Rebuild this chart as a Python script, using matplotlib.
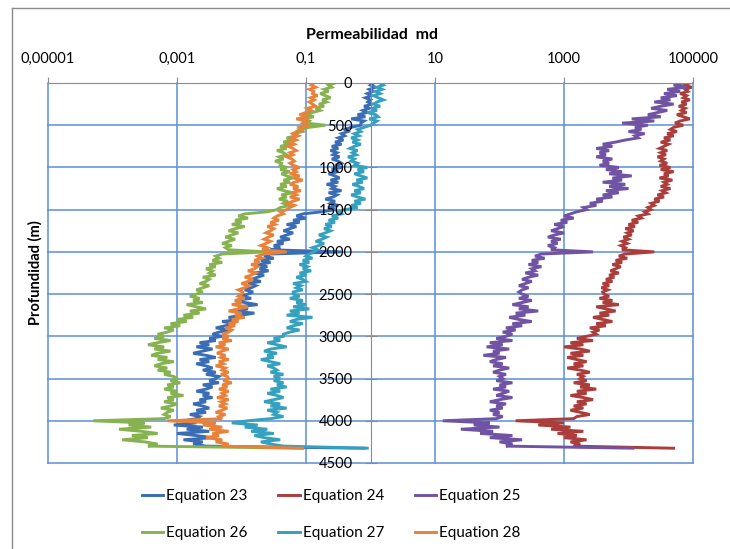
import numpy as np
import matplotlib.pyplot as plt
from matplotlib.lines import Line2D
from matplotlib.ticker import FixedLocator, FixedFormatter, NullLocator

plt.rcParams['font.family'] = ['Lato', 'DejaVu Sans']

# depth samples every 25 m (0 .. 4325 m)
depth_m = np.arange(0, 4326, 25)

# log10 of permeability (md), one row per 500 m
eq23_log = [
    0.05, 0.0, 0.08, -0.02, 0.04, -0.05, 0.02, -0.08, 0.0, -0.04, 0.03, -0.1, -0.02, -0.12, -0.05, -0.2, -0.08, -0.3, -0.1, -0.15,
    -0.15, -0.3, -0.4, -0.35, -0.45, -0.4, -0.5, -0.42, -0.55, -0.45, -0.6, -0.5, -0.62, -0.52, -0.58, -0.48, -0.6, -0.5, -0.45, -0.55,
    -0.45, -0.6, -0.5, -0.65, -0.55, -0.48, -0.62, -0.5, -0.68, -0.55, -0.6, -0.45, -0.65, -0.52, -0.58, -0.7, -0.55, -0.62, -0.5, -0.66,
    -0.55, -0.75, -1.05, -1.15, -1.0, -1.2, -1.1, -1.3, -1.15, -1.25, -1.35, -1.2, -1.3, -1.4, -1.25, -1.45, -1.35, -1.5, -1.4, -1.55,
    -0.45, -1.55, -1.65, -1.5, -1.7, -1.55, -1.75, -1.6, -1.72, -1.58, -1.8, -1.65, -1.75, -1.85, -1.7, -1.9, -1.78, -1.85, -1.95, -1.82,
    -1.9, -2.0, -1.85, -2.1, -1.95, -1.75, -2.05, -1.9, -2.15, -1.8, -2.0, -2.2, -2.05, -2.3, -2.1, -2.25, -2.4, -2.2, -2.35, -2.45,
    -2.3, -2.5, -2.4, -2.65, -2.5, -2.7, -2.45, -2.6, -2.75, -2.55, -2.4, -2.65, -2.5, -2.7, -2.55, -2.45, -2.6, -2.4, -2.55, -2.35,
    -2.4, -2.5, -2.35, -2.6, -2.45, -2.55, -2.7, -2.5, -2.6, -2.45, -2.65, -2.55, -2.75, -2.6, -2.5, -2.7, -2.55, -2.8, -2.65, -2.7,
    -2.9, -2.7, -3.05, -2.6, -2.85, -2.5, -3.0, -2.7, -2.45, -2.9, -2.6, -2.75, -2.55, -0.1,
]

eq24_log = [
    4.95, 4.85, 4.98, 4.88, 4.92, 4.8, 4.9, 4.85, 4.95, 4.82, 4.9, 4.78, 4.88, 4.82, 4.9, 4.75, 4.85, 4.95, 4.8, 4.72,
    4.85, 4.7, 4.65, 4.75, 4.6, 4.7, 4.55, 4.65, 4.5, 4.62, 4.55, 4.48, 4.6, 4.5, 4.58, 4.45, 4.55, 4.5, 4.6, 4.48,
    4.65, 4.5, 4.7, 4.55, 4.62, 4.48, 4.68, 4.55, 4.6, 4.5, 4.65, 4.52, 4.58, 4.45, 4.55, 4.4, 4.48, 4.35, 4.4, 4.3,
    4.35, 4.25, 4.3, 4.15, 4.2, 4.05, 4.15, 4.0, 4.1, 3.95, 4.08, 3.98, 4.05, 3.92, 4.0, 3.9, 3.98, 3.88, 3.95, 3.9,
    4.4, 3.95, 3.85, 3.98, 3.8, 3.9, 3.75, 3.88, 3.8, 3.72, 3.85, 3.7, 3.78, 3.65, 3.75, 3.6, 3.7, 3.58, 3.68, 3.6,
    3.62, 3.7, 3.55, 3.75, 3.6, 3.85, 3.5, 3.65, 3.8, 3.55, 3.7, 3.45, 3.6, 3.75, 3.5, 3.65, 3.4, 3.55, 3.45, 3.5,
    3.35, 3.2, 3.45, 3.1, 3.3, 3.0, 3.25, 3.4, 3.1, 3.3, 3.05, 3.2, 3.35, 3.15, 3.3, 3.05, 3.25, 3.4, 3.2, 3.3,
    3.25, 3.35, 3.15, 3.4, 3.25, 3.5, 3.2, 3.35, 3.1, 3.3, 3.45, 3.2, 3.35, 3.15, 3.3, 3.1, 3.25, 3.4, 3.2, 3.15,
    2.25, 3.0, 2.6, 3.1, 2.8, 3.3, 2.9, 3.2, 3.0, 3.35, 3.1, 3.25, 3.15, 4.7,
]

eq25_log = [
    4.85, 4.7, 4.9, 4.6, 4.8, 4.55, 4.75, 4.5, 4.65, 4.4, 4.7, 4.5, 4.35, 4.6, 4.45, 4.3, 4.5, 4.05, 4.4, 3.9,
    4.3, 4.1, 4.2, 4.0, 4.25, 4.1, 4.15, 3.95, 3.8, 3.6, 3.75, 3.5, 3.7, 3.55, 3.65, 3.5, 3.75, 3.6, 3.7, 3.55,
    3.85, 3.65, 3.9, 3.7, 4.05, 3.75, 3.9, 3.6, 3.95, 3.7, 4.0, 3.65, 3.85, 3.6, 3.75, 3.5, 3.6, 3.4, 3.5, 3.3,
    3.35, 3.2, 3.1, 3.0, 3.15, 2.95, 3.05, 2.85, 3.0, 2.9, 2.8, 3.0, 2.85, 2.75, 2.95, 2.8, 2.9, 2.75, 2.85, 2.8,
    3.45, 2.65, 2.55, 2.7, 2.5, 2.6, 2.45, 2.65, 2.5, 2.55, 2.4, 2.6, 2.45, 2.35, 2.5, 2.4, 2.3, 2.45, 2.35, 2.3,
    2.35, 2.45, 2.3, 2.5, 2.35, 2.2, 2.45, 2.3, 2.6, 2.25, 2.4, 2.15, 2.3, 2.5, 2.2, 2.35, 2.1, 2.25, 2.05, 2.2,
    2.1, 1.95, 2.2, 1.85, 2.05, 1.8, 2.15, 1.9, 2.0, 1.75, 2.1, 1.95, 1.85, 2.05, 1.9, 2.15, 2.0, 1.9, 2.1, 2.0,
    2.05, 1.95, 2.2, 2.0, 2.1, 1.9, 2.15, 2.05, 1.95, 2.2, 2.0, 1.85, 2.1, 1.95, 2.05, 1.85, 2.0, 1.9, 2.05, 1.95,
    1.12, 1.85, 1.6, 2.0, 1.4, 1.9, 1.7, 2.2, 1.85, 2.35, 2.0, 2.2, 2.1, 4.07,
]

eq26_log = [
    -0.55, -0.65, -0.6, -0.72, -0.65, -0.78, -0.7, -0.62, -0.75, -0.68, -0.8, -0.72, -0.85, -0.78, -0.9, -1.0, -0.88, -1.05, -0.95, -1.0,
    -0.7, -0.95, -1.1, -1.05, -1.2, -1.15, -1.3, -1.22, -1.35, -1.25, -1.4, -1.3, -1.45, -1.35, -1.3, -1.42, -1.35, -1.48, -1.38, -1.4,
    -1.3, -1.4, -1.25, -1.38, -1.3, -1.2, -1.35, -1.25, -1.4, -1.3, -1.45, -1.35, -1.2, -1.38, -1.3, -1.42, -1.28, -1.35, -1.25, -1.4,
    -1.45, -1.6, -1.95, -2.05, -1.9, -2.1, -2.0, -2.15, -1.95, -2.1, -2.2, -2.05, -2.15, -2.25, -2.1, -2.2, -2.3, -2.15, -2.25, -2.2,
    -1.6, -2.3, -2.4, -2.35, -2.45, -2.3, -2.5, -2.4, -2.55, -2.45, -2.5, -2.4, -2.6, -2.5, -2.55, -2.65, -2.5, -2.6, -2.7, -2.6,
    -2.7, -2.8, -2.65, -2.75, -2.6, -2.85, -2.7, -2.55, -2.8, -2.65, -2.9, -2.75, -3.0, -2.85, -3.1, -2.95, -3.2, -3.05, -3.15, -3.3,
    -3.2, -3.35, -3.1, -3.3, -3.45, -3.2, -3.35, -3.1, -3.3, -3.4, -3.15, -3.3, -3.05, -3.25, -3.35, -3.15, -3.3, -3.1, -3.2, -3.05,
    -3.0, -3.1, -2.95, -3.15, -3.05, -3.2, -3.0, -3.1, -2.9, -3.15, -3.05, -3.2, -3.0, -3.1, -3.25, -3.05, -3.15, -3.2, -3.1, -3.2,
    -4.3, -3.5, -3.75, -3.4, -3.9, -3.55, -3.3, -3.7, -3.45, -3.85, -3.5, -3.3, -3.45, -1.05,
]

eq27_log = [
    0.15, 0.2, 0.1, 0.18, 0.08, 0.15, 0.05, 0.12, 0.2, 0.1, 0.05, 0.15, 0.02, 0.1, -0.05, 0.08, 0.12, -0.02, 0.1, 0.05,
    0.0, -0.1, -0.2, -0.15, -0.25, -0.18, -0.3, -0.2, -0.28, -0.15, -0.25, -0.32, -0.2, -0.28, -0.22, -0.35, -0.25, -0.3, -0.2, -0.25,
    -0.05, -0.2, -0.1, -0.25, -0.15, -0.05, -0.22, -0.12, -0.28, -0.18, -0.1, -0.25, -0.15, -0.3, -0.2, -0.08, -0.25, -0.15, -0.3, -0.2,
    -0.4, -0.5, -0.45, -0.6, -0.5, -0.65, -0.55, -0.7, -0.6, -0.72, -0.62, -0.7, -0.8, -0.68, -0.75, -0.85, -0.72, -0.8, -0.9, -0.82,
    -0.88, -0.95, -1.0, -0.9, -1.05, -0.95, -1.1, -0.98, -1.05, -0.92, -1.1, -1.0, -1.15, -1.05, -1.0, -1.2, -1.08, -1.15, -1.05, -1.2,
    -1.2, -1.1, -1.25, -1.05, -1.15, -1.0, -1.2, -0.95, -1.25, -1.1, -1.3, -0.9, -1.15, -1.25, -1.05, -1.2, -1.3, -1.1, -1.25, -1.35,
    -1.35, -1.5, -1.4, -1.6, -1.45, -1.3, -1.55, -1.65, -1.45, -1.6, -1.5, -1.7, -1.55, -1.4, -1.6, -1.5, -1.45, -1.55, -1.35, -1.5,
    -1.4, -1.5, -1.35, -1.45, -1.3, -1.55, -1.4, -1.6, -1.45, -1.35, -1.5, -1.65, -1.4, -1.55, -1.3, -1.6, -1.45, -1.5, -1.35, -1.55,
    -1.9, -2.15, -1.75, -1.95, -1.6, -1.85, -1.5, -1.8, -1.65, -1.4, -1.7, -1.55, -1.35, -0.05,
]

eq28_log = [
    -0.88, -0.92, -0.85, -0.95, -0.88, -0.9, -0.82, -0.93, -0.87, -0.95, -0.9, -0.85, -0.98, -0.92, -1.0, -1.1, -0.95, -1.15, -1.0, -1.05,
    -0.95, -1.1, -1.05, -1.15, -1.2, -1.12, -1.22, -1.15, -1.25, -1.18, -1.28, -1.2, -1.15, -1.25, -1.2, -1.3, -1.22, -1.18, -1.25, -1.2,
    -1.1, -1.2, -1.15, -1.25, -1.1, -1.2, -1.05, -1.18, -1.25, -1.12, -1.2, -1.08, -1.22, -1.15, -1.25, -1.1, -1.2, -1.3, -1.18, -1.25,
    -1.3, -1.4, -1.35, -1.45, -1.5, -1.42, -1.55, -1.48, -1.6, -1.5, -1.55, -1.62, -1.5, -1.58, -1.65, -1.55, -1.62, -1.7, -1.6, -1.68,
    -1.3, -1.65, -1.75, -1.68, -1.8, -1.72, -1.85, -1.75, -1.8, -1.9, -1.78, -1.85, -1.95, -1.82, -1.9, -2.0, -1.88, -1.95, -2.05, -1.98,
    -2.0, -2.05, -1.95, -2.1, -2.0, -2.15, -1.9, -2.05, -2.2, -2.0, -2.1, -1.95, -2.15, -2.05, -2.2, -2.1, -2.25, -2.15, -2.2, -2.3,
    -2.2, -2.3, -2.15, -2.35, -2.25, -2.4, -2.2, -2.3, -2.38, -2.25, -2.32, -2.2, -2.35, -2.28, -2.4, -2.25, -2.3, -2.2, -2.32, -2.22,
    -2.2, -2.28, -2.15, -2.3, -2.22, -2.35, -2.2, -2.3, -2.25, -2.38, -2.2, -2.32, -2.25, -2.35, -2.22, -2.3, -2.4, -2.25, -2.35, -2.3,
    -3.15, -2.4, -2.6, -2.3, -2.5, -2.2, -2.45, -2.35, -2.55, -2.3, -2.4, -2.2, -2.3, -1.05,
]

series_names = ['Equation 23', 'Equation 24', 'Equation 25',
                'Equation 26', 'Equation 27', 'Equation 28']
series_logs = [eq23_log, eq24_log, eq25_log, eq26_log, eq27_log, eq28_log]
colors = ['#3b6db4', '#ab3d3b', '#7053a2', '#86b24f', '#36a0bf', '#e8823a']

x_ticks = [1e-5, 1e-3, 1e-1, 1e1, 1e3, 1e5]
x_labels = ['0,00001', '0,001', '0,1', '10', '1000', '100000']
y_ticks = list(range(0, 4501, 500))

grid_col = '#5b8fd6'
axis_col = '#8c8c8c'

fig = plt.figure(figsize=(7.30, 5.49), dpi=100)
ax = fig.add_axes([48/730, 1-463/549, 645/730, 380/549])

lines = []
for name, vals, c in zip(series_names, series_logs, colors):
    ln, = ax.plot(10 ** np.array(vals), depth_m, color=c, lw=2.1,
                  solid_joinstyle='miter', label=name, zorder=2)
    lines.append(ln)

ax.set_xscale('log')
ax.set_xlim(1e-5, 1e5)
ax.set_ylim(4500, 0)

ax.xaxis.set_major_locator(FixedLocator(x_ticks))
ax.xaxis.set_major_formatter(FixedFormatter(x_labels))
ax.xaxis.set_minor_locator(NullLocator())
ax.set_yticks(y_ticks)
ax.yaxis.set_minor_locator(NullLocator())

# grid drawn by hand so the depth labels can sit above the curves
for xv in x_ticks:
    ax.axvline(xv, color=grid_col, lw=1.1, clip_on=False, zorder=0.5)
for yv in y_ticks[1:]:
    ax.axhline(yv, color=grid_col, lw=1.1, clip_on=False, zorder=0.5)

# axes crossing: depth axis at 1 md, permeability axis on top
ax.xaxis.tick_top()
ax.spines['left'].set_position(('data', 1))
ax.spines['left'].set_color(axis_col)
ax.spines['top'].set_color(axis_col)
ax.spines['left'].set_zorder(3)
ax.spines['top'].set_zorder(3)
ax.spines['right'].set_visible(False)
ax.spines['bottom'].set_visible(False)
ax.yaxis.set_zorder(4)

ax.tick_params(axis='x', which='major', direction='out', length=4,
               color=axis_col, pad=8, labelsize=10.5, labelcolor='black')
ax.tick_params(axis='y', which='major', direction='inout', length=8,
               color=axis_col, pad=9, labelsize=10.5, labelcolor='black')

ax.set_ylabel('Profundidad (m)', fontsize=10.5, fontweight='bold')
ax.yaxis.set_label_coords(-0.008, 0.5)

fig.text(372/730, 1-35/549, 'Permeabilidad  md', ha='center', va='center',
         fontsize=11.5, fontweight='bold')

# legend rows: 23 24 25 / 26 27 28
order = [0, 3, 1, 4, 2, 5]
fig.legend([lines[i] for i in order], [series_names[i] for i in order],
           ncol=3, loc='upper left', bbox_to_anchor=(142/730, 1-489/549),
           frameon=False, fontsize=11, handlelength=1.4, handletextpad=0.2,
           columnspacing=2.0, labelspacing=1.5, borderpad=0, borderaxespad=0)

# chart area border (top and left edges visible)
fig.add_artist(Line2D([12/730, 1], [1-8/549, 1-8/549], transform=fig.transFigure,
                      color='#8a8a8a', lw=1))
fig.add_artist(Line2D([12/730, 12/730], [0, 1-8/549], transform=fig.transFigure,
                      color='#8a8a8a', lw=1))

fig.savefig('out.png', dpi=100)
